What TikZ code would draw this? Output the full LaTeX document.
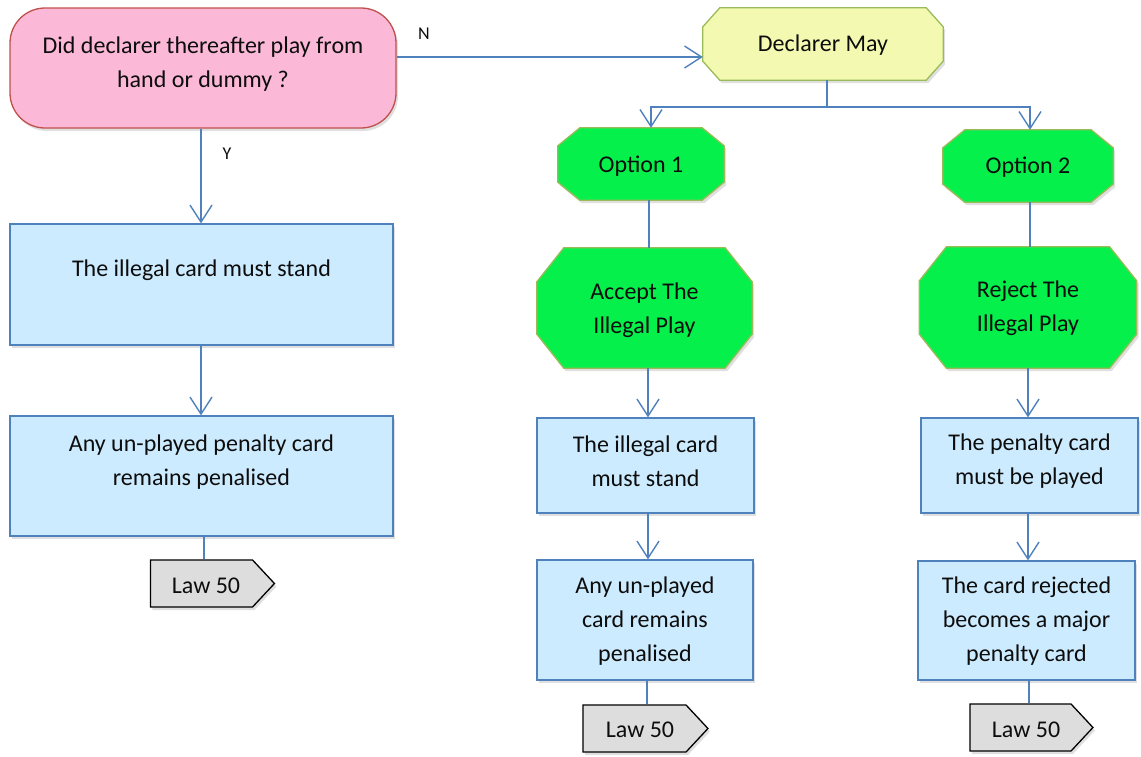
\documentclass[tikz,border=0pt]{standalone}
\usepackage{fontspec}
\setmainfont{Carlito}
\usetikzlibrary{arrows.meta,shapes.symbols,shadows,calc}
\definecolor{qfill}{HTML}{FBB9D7}
\definecolor{qdraw}{HTML}{C0504D}
\definecolor{yfill}{HTML}{F3F9B1}
\definecolor{odraw}{HTML}{9BBB59}
\definecolor{gfill}{HTML}{05F04B}
\definecolor{bfill}{HTML}{CDEBFE}
\definecolor{bdraw}{HTML}{4F81BD}
\definecolor{tfill}{HTML}{DDDDDD}
\definecolor{txtc}{HTML}{0D0D0D}
\tikzset{
  shad/.style={drop shadow={opacity=0.25, shadow xshift=2pt, shadow yshift=-3pt}},
  qbox/.style={rectangle, rounded corners=35pt, draw=qdraw, fill=qfill, line width=1.3pt, inner sep=0pt, shad},
  octoframe/.style={rectangle, inner sep=0pt},
  octoline/.style={draw=odraw, line width=1.3pt, shad},
  bbox/.style={rectangle, draw=bdraw, fill=bfill, line width=1.3pt, inner sep=0pt, shad},
  tagbox/.style={signal, signal to=east, signal pointer angle=94, draw=black, fill=tfill, line width=1.3pt, inner sep=0pt, shad},
  txt/.style={align=center, text=txtc, inner sep=0pt, font=\fontsize{24}{34}\selectfont},
  ln/.style={draw=bdraw, line width=1.4pt},
  arr/.style={ln, -{Straight Barb[length=17pt, width=22pt, line width=1.4pt]}},
}
% octagon outline on a named node: #1 node, #2 x cut, #3 y cut, #4 fill
\newcommand\octopath[4]{%
  \path[octoline, fill=#4] ($(#1.north west)+(#2,0)$) -- ($(#1.north east)+(-#2,0)$)
    -- ($(#1.north east)+(0,#3)$) -- ($(#1.south east)+(0,-#3)$)
    -- ($(#1.south east)+(-#2,0)$) -- ($(#1.south west)+(#2,0)$)
    -- ($(#1.south west)+(0,-#3)$) -- ($(#1.north west)+(0,#3)$) -- cycle;}
\begin{document}
\begin{tikzpicture}[x=1pt,y=-1pt]
\useasboundingbox (0,0) rectangle (1141,756);
% question
\node[qbox, minimum width=386pt, minimum height=120pt] (Q) at (203,68) {};
\node[txt] (Qt) at (203,64) {Did declarer thereafter play from\\hand or dummy ?};
% declarer may
\node[octoframe, minimum width=240pt, minimum height=72pt] (DM) at (823,44) {};
\octopath{DM}{17}{19}{yfill}
\node[txt] (DMt) at (823,45) {Declarer May};
% options
\node[octoframe, minimum width=166pt, minimum height=72pt] (O1) at (641,164) {};
\octopath{O1}{22}{18}{gfill}
\node[txt] (O1t) at (641,166) {Option 1};
\node[octoframe, minimum width=170pt, minimum height=72pt] (O2) at (1028,166) {};
\octopath{O2}{22}{18}{gfill}
\node[txt] (O2t) at (1028,167) {Option 2};
\node[octoframe, minimum width=215pt, minimum height=120pt] (Acc) at (644.5,308) {};
\octopath{Acc}{27}{34}{gfill}
\node[txt] (Acct) at (644.5,310) {Accept The\\Illegal Play};
\node[octoframe, minimum width=217pt, minimum height=121pt] (Rej) at (1028,307.5) {};
\octopath{Rej}{27}{34}{gfill}
\node[txt] (Rejt) at (1028,308) {Reject The\\Illegal Play};
% left column
\node[bbox, minimum width=383pt, minimum height=121pt] (L1) at (201.5,284.5) {};
\node[txt] (L1t) at (201.5,270) {The illegal card must stand};
\node[bbox, minimum width=383pt, minimum height=120pt] (L2) at (201.5,476) {};
\node[txt] (L2t) at (201.5,462) {Any un-played penalty card\\remains penalised};
\node[tagbox, minimum width=124pt, minimum height=47pt] (TL) at (201.5,583.5) {};
\node[txt] (TLt) at (206,586) {Law 50};
% middle column
\node[bbox, minimum width=217pt, minimum height=95pt] (M1) at (645.5,465.5) {};
\node[txt] (M1t) at (645.5,461.5) {The illegal card\\must stand};
\node[bbox, minimum width=216pt, minimum height=120pt] (M2) at (645,620) {};
\node[txt] (M2t) at (645,621) {Any un-played\\card remains\\penalised};
\node[tagbox, minimum width=125pt, minimum height=47pt] (TM) at (634.5,728.5) {};
\node[txt] (TMt) at (640,730) {Law 50};
% right column
\node[bbox, minimum width=217pt, minimum height=95pt] (R1) at (1029.5,465.5) {};
\node[txt] (R1t) at (1029.5,461.5) {The penalty card\\must be played};
\node[bbox, minimum width=217pt, minimum height=119pt] (R2) at (1026.5,620.5) {};
\node[txt] (R2t) at (1026.5,621) {The card rejected\\becomes a major\\penalty card};
\node[tagbox, minimum width=123pt, minimum height=47pt] (TR) at (1020.5,727.5) {};
\node[txt] (TRt) at (1026,730) {Law 50};
% labels
\node[txt, font=\fontsize{18}{20}\selectfont] (Nl) at (424,34) {N};
\node[txt, font=\fontsize{18}{20}\selectfont] (Yl) at (227,154) {Y};
% connectors
\draw[arr] (Q.east |- 0,57) -- (DM.west |- 0,57);
\draw[arr] (Q.south -| 201,0) -- (L1.north -| 201,0);
\draw[arr] (L1.south -| 201,0) -- (L2.north -| 201,0);
\draw[ln] (L2.south -| 204,0) -- (TL.north -| 204,0);
\draw[ln] (DM.south -| 827,0) -- (827,107) coordinate (split);
\draw[arr] (split) -| (O1.north -| 651,0);
\draw[arr] (split) -| (O2.north -| 1030,0);
\draw[ln] (O1.south -| 649,0) -- (Acc.north -| 649,0);
\draw[arr] (Acc.south -| 648,0) -- (M1.north -| 648,0);
\draw[arr] (M1.south -| 648,0) -- (M2.north -| 648,0);
\draw[ln] (M2.south -| 647,0) -- (TM.north -| 647,0);
\draw[ln] (O2.south -| 1030,0) -- (Rej.north -| 1030,0);
\draw[arr] (Rej.south -| 1028,0) -- (R1.north -| 1028,0);
\draw[arr] (R1.south -| 1028,0) -- (R2.north -| 1028,0);
\draw[ln] (R2.south -| 1029,0) -- (TR.north -| 1029,0);
\end{tikzpicture}
\end{document}
